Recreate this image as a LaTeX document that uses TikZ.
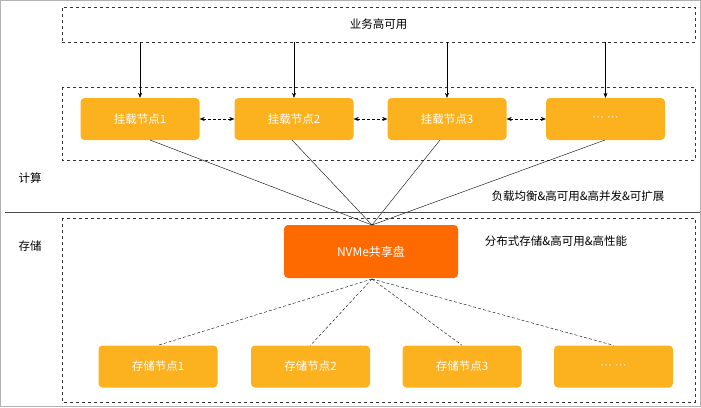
\documentclass[tikz,border=0pt]{standalone}
\usepackage{fontspec}
\setmainfont{Noto Sans CJK SC}
\newfontfamily\latinf{Liberation Sans}
\usetikzlibrary{arrows.meta}
\begin{document}
\begin{tikzpicture}[x=1pt,y=-1pt,
  box/.style={draw=black!80,dashed,line width=0.6pt},
  mnt/.style={fill=nodeor,rounded corners=4pt,text=white,font=\fontsize{11.5}{13}\selectfont,minimum width=119pt,minimum height=42pt,inner sep=0pt},
  lbl/.style={font=\fontsize{11.5}{13}\selectfont,text=black},
  >={Stealth[length=5pt,width=4pt]}]
\definecolor{nodeor}{HTML}{FCB11F}
\definecolor{nvme}{HTML}{FF6A00}
\useasboundingbox (0,0) rectangle (701,407);
\draw[black!30] (0.5,0.5) rectangle (700.5,406.5);
\node[box,minimum width=633pt,minimum height=35pt,inner sep=0pt,lbl] (biz) at (378.5,24.5) {业务高可用};
\draw[box] (62,87) rectangle (695,160);
\draw[box] (62,218) rectangle (695,402);
\node[mnt] (m1) at (140,119) {挂载节点1};
\node[mnt] (m2) at (294,119) {挂载节点2};
\node[mnt] (m3) at (447,119) {挂载节点3};
\node[mnt] (m4) at (605.5,119) {\latinf ··· ···};
\foreach \i in {1,2,3,4}{\draw[->] (biz.south -| m\i) -- (m\i.north);}
\draw[<->,densely dashed] (m1) -- (m2);
\draw[<->,densely dashed] (m2) -- (m3);
\draw[<->,densely dashed] (m3) -- (m4);
\node[fill=nvme,rounded corners=4pt,text=white,font=\fontsize{12}{14}\selectfont,minimum width=174pt,minimum height=53pt,inner sep=0pt] (nv) at (371,251.5) {NVMe共享盘};
\coordinate (top) at (372,225);
\coordinate (bot) at (372,279);
\draw (150,140) -- (top);
\draw (292,140) -- (top);
\draw (440,140) -- (top);
\draw (605,140) -- (top);
\draw[black!70] (5,212) -- (700,212);
\node[lbl] (c) at (30,178) {计算};
\node[lbl] (s) at (30,246) {存储};
\node[lbl] (t1) at (578,196) {负载均衡\&高可用\&高并发\&可扩展};
\node[lbl] (t2) at (556,241) {分布式存储\&高可用\&高性能};
\node[mnt] (s1) at (158,366.5) {存储节点1};
\node[mnt] (s2) at (310.5,366.5) {存储节点2};
\node[mnt] (s3) at (462,366.5) {存储节点3};
\node[mnt] (s4) at (613.5,366.5) {\latinf ··· ···};
\foreach \i in {1,2,3,4}{\draw[densely dashed] (bot) -- (s\i.north);}
\end{tikzpicture}
\end{document}
